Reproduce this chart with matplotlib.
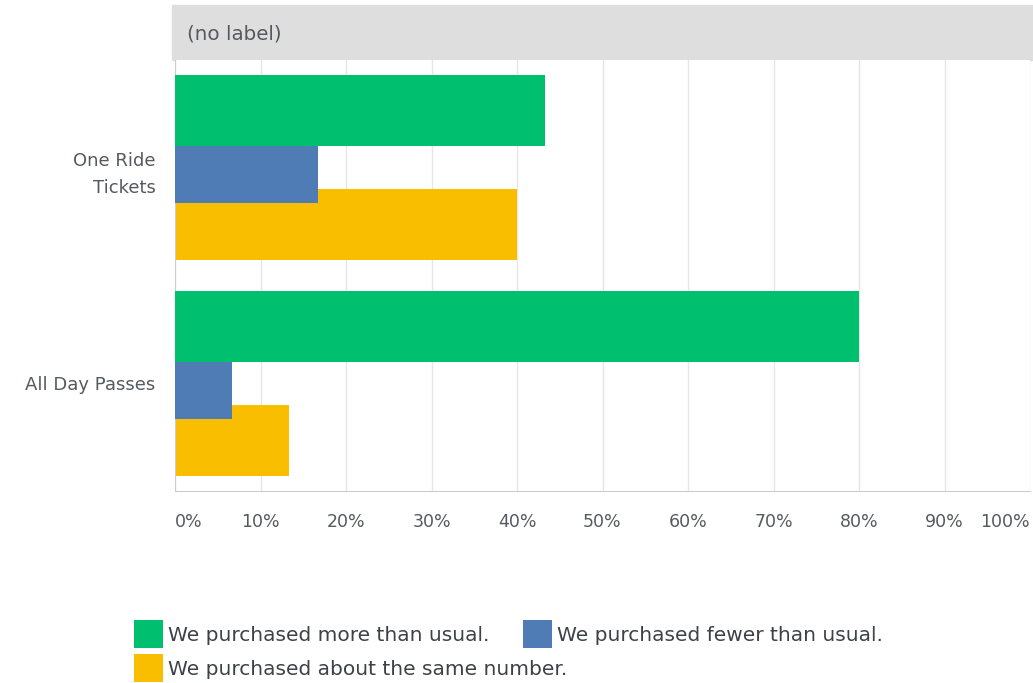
import matplotlib.pyplot as plt
from matplotlib.patches import Rectangle

# data
categories = ["One Ride\nTickets", "All Day Passes"]
series_names = ["We purchased more than usual.",
                "We purchased fewer than usual.",
                "We purchased about the same number."]
more_than_usual = [43.33, 80.0]
fewer_than_usual = [16.67, 6.67]
about_same = [40.0, 13.33]
x_ticks = [0, 10, 20, 30, 40, 50, 60, 70, 80, 90, 100]
x_tick_labels = ["0%", "10%", "20%", "30%", "40%", "50%", "60%", "70%", "80%", "90%", "100%"]

colors = ["#00BF6F", "#507CB6", "#F9BE00"]
text_col = "#555a60"

plt.rcParams['font.family'] = ['DejaVu Sans']

W, H = 1033, 683
fig = plt.figure(figsize=(W / 100, H / 100), dpi=100)
ax = fig.add_axes([175 / W, (H - 491) / H, 855 / W, 431 / H])

# header band
fig.add_artist(Rectangle((172 / W, (H - 60) / H), (W - 172) / W, 55 / H,
                         transform=fig.transFigure, color="#dedede", zorder=0))
fig.text(187 / W, (H - 34) / H, "(no label)", fontsize=14.3, color=text_col,
         va="center", ha="left")

ypos = list(range(len(categories)))
off = 0.265
bar_h = 0.33
series = [more_than_usual, fewer_than_usual, about_same]
zords = [4, 3, 2]
handles = []
for i, (vals, name) in enumerate(zip(series, series_names)):
    b = ax.barh([y + (i - 1) * off for y in ypos], vals, height=bar_h,
                color=colors[i], label=name, zorder=zords[i])
    handles.append(b)

ax.set_xlim(0, 100)
ax.set_ylim(1.5, -0.5)
ax.set_xticks(x_ticks)
ax.set_xticklabels(x_tick_labels)
ax.set_yticks(ypos)
ax.set_yticklabels(categories, linespacing=1.65)
ax.tick_params(axis="both", length=0, colors=text_col)
ax.tick_params(axis="x", pad=16, labelsize=12.5)
ax.tick_params(axis="y", pad=14, labelsize=13)
labs = ax.get_xticklabels()
labs[0].set_ha("left")
labs[-1].set_ha("right")

ax.grid(axis="x", color="#e6e6e6", linewidth=1, zorder=0)
ax.set_axisbelow(True)
for s in ["top", "right"]:
    ax.spines[s].set_visible(False)
ax.spines["left"].set_color("#cccccc")
ax.spines["bottom"].set_color("#cccccc")
ax.spines["bottom"].set_bounds(0, 100)

# legend flows like the survey widget: two items on row one, third below
leg_kw = dict(loc="center left", frameon=False, fontsize=14.5, handlelength=1.45,
              handleheight=1.75, handletextpad=0.25, columnspacing=1.65,
              borderpad=0, borderaxespad=0)
leg1 = fig.legend([handles[0], handles[1]], series_names[:2], ncol=2,
                  bbox_to_anchor=(134 / W, (H - 634) / H), **leg_kw)
leg2 = fig.legend([handles[2]], series_names[2:],
                  bbox_to_anchor=(134 / W, (H - 668) / H), **leg_kw)
for lg in (leg1, leg2):
    for t in lg.get_texts():
        t.set_color("#3c4248")

fig.savefig("out.png", dpi=100)
